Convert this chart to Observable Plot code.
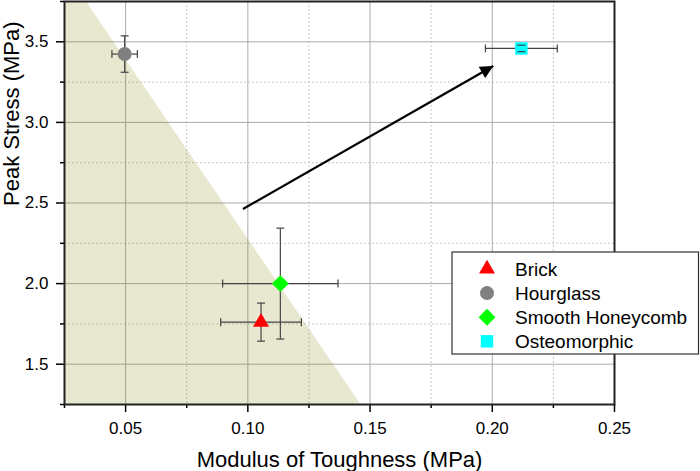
<!DOCTYPE html>
<html>
<head>
<meta charset="utf-8">
<script src="https://cdn.jsdelivr.net/npm/d3@7"></script>
<script src="https://cdn.jsdelivr.net/npm/@observablehq/plot@0.6"></script>
<style>
  body { margin: 0; background: #fff; }
  #chart svg { display: block; }
</style>
</head>
<body>
<div id="chart"></div>
<script>
// ---- data ----
const categories = ["Brick", "Hourglass", "Smooth Honeycomb", "Osteomorphic"];
const toughness = [0.1054, 0.0496, 0.1133, 0.2119];
const toughnessErr = [0.0165, 0.0052, 0.0236, 0.0147];
const stress = [1.761, 3.424, 2.0, 3.459];
const stressErr = [0.118, 0.113, 0.344, 0.02];

const shadeX = [0.025, 0.0339, 0.1462];
const shadeTop = [3.75, 3.75, 1.25];
const shadeBottom = [1.25, 1.25, 1.25];

const arrowStart = {x: 0.098, y: 2.463};
const arrowEnd = {x: 0.2004, y: 3.35};

const xTicks = [0.05, 0.10, 0.15, 0.20, 0.25];
const xMinorTicks = [0.025, 0.075, 0.125, 0.175, 0.225];
const yTicks = [1.5, 2.0, 2.5, 3.0, 3.5];
const yMinorTicks = [1.25, 1.75, 2.25, 2.75, 3.25, 3.75];

// ---- styles ----
const symbolNames = ["triangle", "circle", "diamond2", "square"];
const colors = ["#ff0000", "#808080", "#00ff00", "#00ffff"];
const markerR = [5.94, 7, 7.6, 7.0];
const font = "'Liberation Sans', Arial, sans-serif";

const rows = categories.map((c, i) => ({
  name: c, x: toughness[i], ex: toughnessErr[i], y: stress[i], ey: stressErr[i]
}));
const shade = shadeX.map((x, i) => ({x, y1: shadeBottom[i], y2: shadeTop[i]}));

const vcap = {draw(ctx, size) { const r = Math.sqrt(size / Math.PI); ctx.moveTo(0, -r); ctx.lineTo(0, r); }};
const hcap = {draw(ctx, size) { const r = Math.sqrt(size / Math.PI); ctx.moveTo(-r, 0); ctx.lineTo(r, 0); }};
const errColor = "#444";

const marks = [
  Plot.gridX(xMinorTicks, {stroke: "#c8c8c8", strokeOpacity: 1, strokeDasharray: "2,2"}),
  Plot.gridY(yMinorTicks, {stroke: "#c8c8c8", strokeOpacity: 1, strokeDasharray: "2,2"}),
  Plot.gridX(xTicks, {stroke: "#ababab", strokeOpacity: 1}),
  Plot.gridY(yTicks, {stroke: "#ababab", strokeOpacity: 1}),
  Plot.areaY(shade, {x: "x", y1: "y1", y2: "y2", fill: "#808000", fillOpacity: 0.18, clip: true}),
  // error bars
  Plot.link(rows, {x1: d => d.x - d.ex, x2: d => d.x + d.ex, y1: "y", y2: "y", stroke: errColor, strokeWidth: 1.2}),
  Plot.link(rows, {x1: "x", x2: "x", y1: d => d.y - d.ey, y2: d => d.y + d.ey, stroke: errColor, strokeWidth: 1.2}),
  ...categories.map((c, i) => Plot.dot([rows[i]], {x: "x", y: "y", symbol: symbolNames[i], fill: colors[i], r: markerR[i], stroke: "none"})),
  Plot.dot(rows, {x: d => d.x - d.ex, y: "y", symbol: vcap, r: 4, fill: "none", stroke: errColor, strokeWidth: 1.2}),
  Plot.dot(rows, {x: d => d.x + d.ex, y: "y", symbol: vcap, r: 4, fill: "none", stroke: errColor, strokeWidth: 1.2}),
  Plot.dot(rows, {x: "x", y: d => d.y - d.ey, symbol: hcap, r: 4, fill: "none", stroke: errColor, strokeWidth: 1.2}),
  Plot.dot(rows, {x: "x", y: d => d.y + d.ey, symbol: hcap, r: 4, fill: "none", stroke: errColor, strokeWidth: 1.2}),
  // arrow
  Plot.link([{x1: arrowStart.x, y1: arrowStart.y, x2: arrowEnd.x, y2: arrowEnd.y}],
    {x1: "x1", y1: "y1", x2: "x2", y2: "y2", stroke: "#000000", strokeWidth: 2.2}),
  // axes
  Plot.axisX(xTicks, {tickSize: 8, tickPadding: 9, tickFormat: d3.format(".2f"), fontSize: 17, label: null, stroke: "#000", strokeWidth: 1.5}),
  Plot.axisX(xMinorTicks, {tickSize: 4, tickFormat: () => "", label: null, stroke: "#000", strokeWidth: 1.5}),
  Plot.axisY(yTicks, {tickSize: 8, tickPadding: 8, tickFormat: d3.format(".1f"), fontSize: 17, label: null, stroke: "#000", strokeWidth: 1.5}),
  Plot.axisY(yMinorTicks, {tickSize: 4, tickFormat: () => "", label: null, stroke: "#000", strokeWidth: 1.5}),
  Plot.frame({stroke: "#222", strokeWidth: 2}),
  Plot.text(["Modulus of Toughness (MPa)"], {frameAnchor: "bottom", lineAnchor: "middle", dy: 55, fontSize: 22, fill: "#000"}),
  Plot.text(["Peak Stress (MPa)"], {frameAnchor: "left", lineAnchor: "middle", rotate: -90, dx: -53, dy: 3, fontSize: 22, fill: "#000"})
];

const svg = Plot.plot({
  width: 700,
  height: 471,
  marginLeft: 64,
  marginRight: 86,
  marginTop: 1,
  marginBottom: 67,
  style: {fontFamily: font, fontSize: "17px", color: "#000", background: "#fff"},
  x: {domain: [0.025, 0.25]},
  y: {domain: [1.25, 3.75]},
  marks
});

document.getElementById("chart").appendChild(svg);

// filled arrow head
const s = d3.select(svg);
const defs = s.append("defs");
defs.append("marker")
  .attr("id", "arrowhead")
  .attr("viewBox", "0 0 10 10")
  .attr("refX", 10).attr("refY", 5)
  .attr("markerUnits", "userSpaceOnUse")
  .attr("markerWidth", 15).attr("markerHeight", 13)
  .attr("orient", "auto")
  .append("path").attr("d", "M0,0L10,5L0,10Z").attr("fill", "#000");
s.selectAll("g").filter(function() {
  return this.getAttribute("stroke-width") === "2.2";
}).selectAll("path, line").attr("marker-end", "url(#arrowhead)");

// legend
const d3sym = {triangle: d3.symbolTriangle, circle: d3.symbolCircle, diamond2: d3.symbolDiamond2, square: d3.symbolSquare};
const lg = s.append("g").attr("font-family", font).attr("text-anchor", "start");
lg.append("rect").attr("x", 452).attr("y", 252).attr("width", 246.5).attr("height", 102)
  .attr("fill", "#fff").attr("stroke", "#333").attr("stroke-width", 1.2);
categories.forEach((c, i) => {
  const yy = 269 + i * 24.1;
  lg.append("path")
    .attr("transform", `translate(487,${yy})`)
    .attr("d", d3.symbol(d3sym[symbolNames[i]], Math.PI * markerR[i] * markerR[i])())
    .attr("fill", colors[i]);
  lg.append("text").attr("x", 515).attr("y", yy).attr("dy", "0.35em")
    .attr("text-anchor", "start")
    .attr("font-size", 19).attr("fill", "#000").text(c);
});
</script>
</body>
</html>
